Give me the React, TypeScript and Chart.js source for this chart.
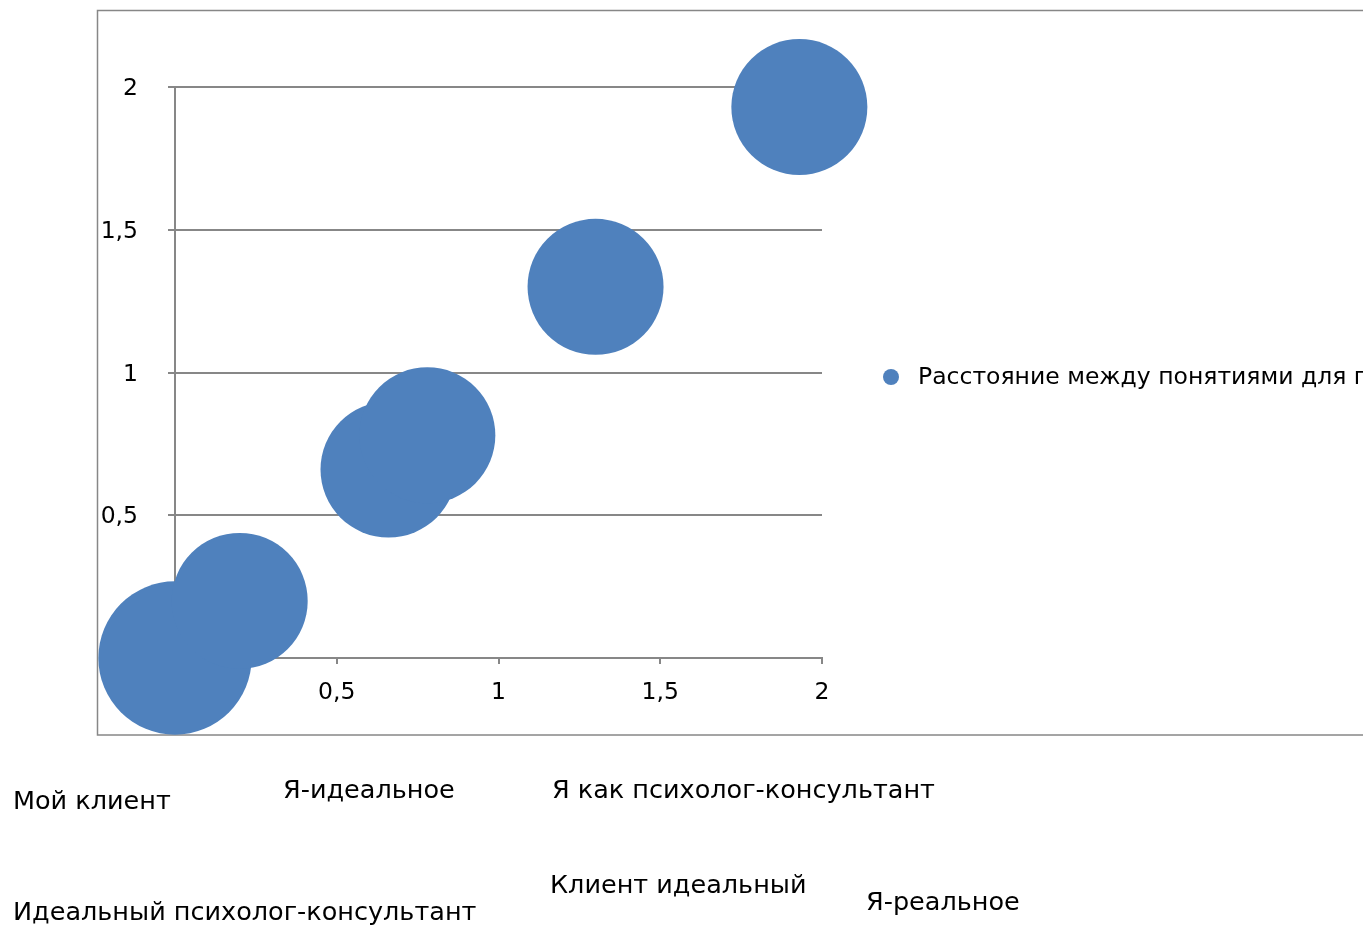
import React, { useEffect, useRef } from "react";
import { Chart, registerables } from "chart.js";

Chart.register(...registerables);

// Bubble chart: distances between concepts
const seriesName = "Расстояние между понятиями для психолога-консультанта";
const xValues = [0, 0.2, 0.66, 0.78, 1.3, 1.93];
const yValues = [0, 0.2, 0.66, 0.78, 1.3, 1.93];
const bubbleSizes = [1.27, 1, 1, 1, 1, 1];
const conceptNames = [
  "Мой клиент",
  "Я-идеальное",
  "Я как психолог-консультант",
  "Идеальный психолог-консультант",
  "Клиент идеальный",
  "Я-реальное",
];
const tickValues = [0.5, 1, 1.5, 2];

// where each concept caption sits below the frame
const captionSpots = [
  [13, 802],
  [283, 791],
  [552, 791],
  [13, 913],
  [550, 886],
  [866, 903],
];

const FONT = "'DejaVu Sans', sans-serif";
const CAPTION_SIZE = 25.5;
const TICK_SIZE = 23.5;
const BLUE = "#4F81BD";
const GRID = "#878787";
const MAX_RADIUS = 68;

const fmt = (v: number) => String(v).replace(".", ",");

const framePlugin = {
  id: "frame",
  beforeDraw(chart: any) {
    const { ctx } = chart;
    ctx.save();
    ctx.strokeStyle = GRID;
    ctx.lineWidth = 1.5;
    ctx.strokeRect(97.5, 10.5, 1400, 724.5);
    ctx.restore();
  },
  afterDraw(chart: any) {
    const { ctx } = chart;
    ctx.save();
    ctx.font = `${CAPTION_SIZE}px ${FONT}`;
    ctx.fillStyle = "#000";
    ctx.textBaseline = "middle";
    ctx.textAlign = "left";
    conceptNames.forEach((name, i) => {
      const [x, y] = captionSpots[i];
      ctx.fillText(name, x, y);
    });
    // legend entry
    ctx.fillStyle = BLUE;
    ctx.beginPath();
    ctx.arc(891, 377, 8, 0, Math.PI * 2);
    ctx.fill();
    ctx.font = `${TICK_SIZE}px ${FONT}`;
    ctx.fillStyle = "#000";
    ctx.fillText(seriesName, 918, 378);
    ctx.restore();
  },
};

export default function App() {
  const ref = useRef<HTMLCanvasElement | null>(null);

  useEffect(() => {
    document.body.style.margin = "0";
    const canvas = ref.current;
    if (!canvas) return;
    const chart = new Chart(canvas, {
      type: "bubble",
      data: {
        datasets: [
          {
            label: seriesName,
            data: xValues.map((x, i) => ({
              x,
              y: yValues[i],
              r: Math.sqrt(bubbleSizes[i]) * MAX_RADIUS,
            })),
            backgroundColor: BLUE,
            borderColor: BLUE,
            borderWidth: 0,
            hoverRadius: 0,
          },
        ],
      },
      options: {
        animation: false,
        responsive: false,
        maintainAspectRatio: false,
        events: [],
        clip: false as any,
        layout: { padding: { left: 0, top: 87, right: 541, bottom: 0 } },
        plugins: {
          legend: { display: false },
          tooltip: { enabled: false },
        },
        scales: {
          x: {
            type: "linear",
            min: 0,
            max: 2,
            afterBuildTicks: (s: any) => {
              s.ticks = [0, ...tickValues].map((v) => ({ value: v }));
            },
            afterFit: (s: any) => {
              s.height = 928 - 658;
            },
            grid: {
              drawOnChartArea: false,
              drawTicks: true,
              tickLength: 6,
              color: GRID,
              lineWidth: 2,
            },
            border: { display: true, color: GRID, width: 2 },
            ticks: {
              padding: 15,
              color: "#000",
              font: { family: FONT, size: TICK_SIZE },
              callback: (v: any) => (v === 0 ? "" : fmt(v)),
            },
          },
          y: {
            type: "linear",
            min: 0,
            max: 2,
            afterBuildTicks: (s: any) => {
              s.ticks = [0, ...tickValues].map((v) => ({ value: v }));
            },
            afterFit: (s: any) => {
              s.width = 175;
            },
            grid: {
              drawOnChartArea: true,
              drawTicks: true,
              tickLength: 7,
              color: (c: any) => (c.tick && c.tick.value === 0 ? "rgba(0,0,0,0)" : GRID),
              lineWidth: 2,
            },
            border: { display: true, color: GRID, width: 2 },
            ticks: {
              padding: 30,
              labelOffset: 2,
              color: "#000",
              font: { family: FONT, size: TICK_SIZE },
              callback: (v: any) => (v === 0 ? "" : fmt(v)),
            },
          },
        },
      },
      plugins: [framePlugin],
    });
    return () => chart.destroy();
  }, []);

  return (
    <div style={{ position: "absolute", left: 0, top: 0, width: 1363, height: 928 }}>
      <canvas ref={ref} width={1363} height={928} style={{ display: "block" }} />
    </div>
  );
}
